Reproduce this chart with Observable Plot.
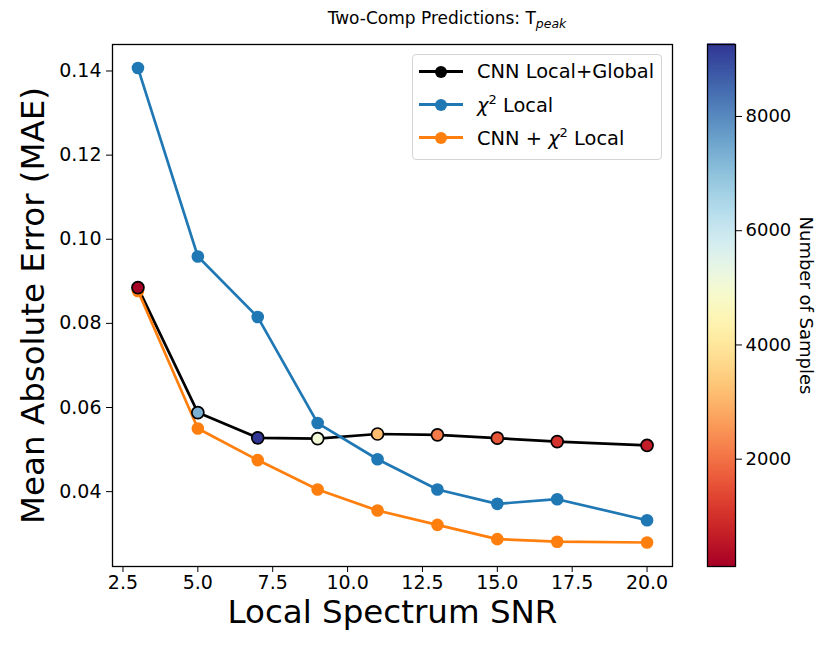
<!DOCTYPE html>
<html>
<head>
<meta charset="utf-8">
<script src="https://cdn.jsdelivr.net/npm/d3@7"></script>
<script src="https://cdn.jsdelivr.net/npm/@observablehq/plot@0.6"></script>
<style>
  html, body { margin:0; padding:0; background:#fff; }
  #wrap { position:relative; width:831px; height:655px; font-family:"DejaVu Sans", sans-serif; }
  #wrap svg { position:absolute; top:0; }
  #title { position:absolute; top:8px; left:247px; width:400px; text-align:center; font-size:17px; color:#000; white-space:nowrap; }
  #title sub { font-style:italic; font-size:12.5px; vertical-align:-4px; }
  #legend { position:absolute; left:412px; top:54px; width:250px; height:106px; border:1px solid #d4d4d4; border-radius:4px; background:rgba(255,255,255,0.85); box-sizing:border-box; }
  .row { position:absolute; left:0; height:33px; display:flex; align-items:center; font-size:19.4px; color:#000; white-space:nowrap; }
  .handle { position:relative; width:44px; height:33px; margin-left:6px; margin-right:14px; }
  .handle .ln { position:absolute; left:0; right:0; top:15.3px; height:2.7px; }
  .handle .mk { position:absolute; left:16px; top:10.6px; width:12px; height:12px; border-radius:50%; }
  .row sup { font-size:13px; vertical-align:8px; }
</style>
</head>
<body>
<div id="wrap">
  <div id="title">Two-Comp Predictions: T<sub>peak</sub></div>
</div>
<script>
// ---- data ----
const snr = [3, 5, 7, 9, 11, 13, 15, 17, 20];
const cnnLocalGlobal = [0.0885, 0.0588, 0.0528, 0.0526, 0.0537, 0.0535, 0.0527, 0.0519, 0.0510];
const chi2Local = [0.1407, 0.0959, 0.0815, 0.0563, 0.0477, 0.0405, 0.0371, 0.0382, 0.0332];
const cnnChi2Local = [0.0877, 0.0550, 0.0475, 0.0405, 0.0355, 0.0321, 0.0287, 0.0281, 0.0279];
const nSamples = [121, 7340, 9260, 5060, 3140, 2130, 1580, 1040, 670];
const xTicks = [2.5, 5, 7.5, 10, 12.5, 15, 17.5, 20];
const yTicks = [0.04, 0.06, 0.08, 0.10, 0.12, 0.14];
const cbTicks = [2000, 4000, 6000, 8000];
const seriesNames = ["CNN Local+Global", "χ2 Local", "CNN + χ2 Local"];
const seriesColors = ["#000000", "#1f77b4", "#ff7f0e"];

const rows = snr.map((s, i) => ({snr: s, cnn: cnnLocalGlobal[i], chi: chi2Local[i], combo: cnnChi2Local[i], n: nSamples[i]}));
const cDomain = d3.extent(nSamples);
const colorOpts = {type: "linear", scheme: "RdYlBu", domain: cDomain};
const tickFont = 19;

const main = Plot.plot({
  width: 831, height: 655,
  marginLeft: 112, marginRight: 159, marginTop: 44, marginBottom: 89,
  style: {fontFamily: "DejaVu Sans", fontSize: tickFont + "px", background: "transparent", overflow: "visible", color: "#000"},
  x: {domain: [2.15, 20.85]},
  y: {domain: [0.0222, 0.1463]},
  color: colorOpts,
  marks: [
    Plot.axisX({ticks: xTicks, tickFormat: d3.format(".1f"), tickSize: 6, tickPadding: 3, label: null, fontSize: tickFont}),
    Plot.axisY({ticks: yTicks, tickFormat: d3.format(".2f"), tickSize: 6, tickPadding: 5, label: null, fontSize: tickFont}),
    Plot.line(rows, {x: "snr", y: "cnn", stroke: seriesColors[0], strokeWidth: 2.7}),
    Plot.dot(rows, {x: "snr", y: "cnn", r: 6, fill: seriesColors[0]}),
    Plot.line(rows, {x: "snr", y: "chi", stroke: seriesColors[1], strokeWidth: 2.7}),
    Plot.dot(rows, {x: "snr", y: "chi", r: 6.3, fill: seriesColors[1]}),
    Plot.line(rows, {x: "snr", y: "combo", stroke: seriesColors[2], strokeWidth: 2.7}),
    Plot.dot(rows, {x: "snr", y: "combo", r: 6.3, fill: seriesColors[2]}),
    Plot.dot(rows, {x: "snr", y: "cnn", r: 6, fill: "n", stroke: "black", strokeWidth: 1.7}),
    Plot.frame({stroke: "black", strokeWidth: 1.3}),
    Plot.text(["Local Spectrum SNR"], {frameAnchor: "bottom", lineAnchor: "middle", textAnchor: "middle", dy: 46, fontSize: 32.5, text: d => d}),
    Plot.text(["Mean Absolute Error (MAE)"], {frameAnchor: "left", lineAnchor: "middle", textAnchor: "middle", dx: -79, rotate: -90, fontSize: 32.5, text: d => d})
  ]
});
main.style.left = "0px";
document.getElementById("wrap").appendChild(main);

// ---- colorbar ----
const nStripes = 256;
const stripes = d3.range(nStripes).map(i => {
  const a = cDomain[0] + (cDomain[1] - cDomain[0]) * i / nStripes;
  const b = cDomain[0] + (cDomain[1] - cDomain[0]) * (i + 1) / nStripes;
  return {y1: a, y2: b, v: (a + b) / 2};
});
const cb = Plot.plot({
  width: 131, height: 655,
  marginLeft: 7, marginRight: 96, marginTop: 44, marginBottom: 89,
  style: {fontFamily: "DejaVu Sans", fontSize: "18px", background: "transparent", overflow: "visible", color: "#000"},
  x: {domain: [0, 1], axis: null},
  y: {domain: cDomain},
  color: colorOpts,
  marks: [
    Plot.rect(stripes, {x1: 0, x2: 1, y1: "y1", y2: "y2", fill: "v", insetTop: -0.6, insetBottom: -0.6}),
    Plot.axisY({anchor: "right", ticks: cbTicks, tickFormat: d3.format("d"), tickSize: 6, tickPadding: 4, label: null, fontSize: 18}),
    Plot.frame({stroke: "black", strokeWidth: 1.3}),
    Plot.text(["Number of Samples"], {frameAnchor: "right", lineAnchor: "middle", textAnchor: "middle", dx: 70, rotate: 90, fontSize: 18, text: d => d})
  ]
});
cb.style.left = "700px";
document.getElementById("wrap").appendChild(cb);

// ---- legend ----
const legend = document.createElement("div");
legend.id = "legend";
seriesNames.forEach((name, i) => {
  const row = document.createElement("div");
  row.className = "row";
  row.style.top = (0 + i * 33) + "px";
  const h = document.createElement("div");
  h.className = "handle";
  h.innerHTML = `<div class="ln" style="background:${seriesColors[i]}"></div><div class="mk" style="background:${seriesColors[i]}"></div>`;
  const t = document.createElement("span");
  t.innerHTML = name.replace("χ2", "<i>χ</i><sup>2</sup>");
  row.appendChild(h);
  row.appendChild(t);
  legend.appendChild(row);
});
document.getElementById("wrap").appendChild(legend);
</script>
</body>
</html>
